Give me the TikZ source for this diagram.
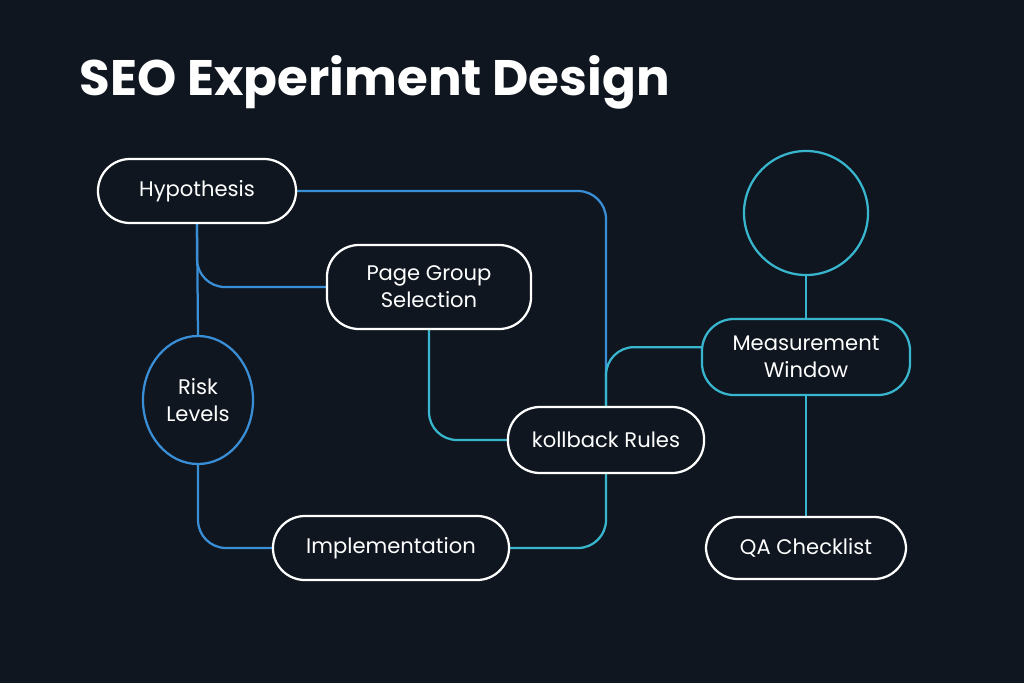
\documentclass[tikz,border=0pt]{standalone}
\usepackage{fontspec}
\setmainfont{Poppins}
\usetikzlibrary{shapes.geometric,backgrounds}
\definecolor{bgdark}{HTML}{0F1620}
\definecolor{lineblue}{HTML}{3A8ED6}
\definecolor{linecyan}{HTML}{38B6CE}

\begin{document}
\begin{tikzpicture}[x=0.025cm,y=-0.025cm,line width=1.6pt,
  box/.style={draw=white,fill=bgdark,rounded corners=0.8cm,text=white,align=center,
    font=\fontsize{15}{19}\selectfont,inner sep=0pt},
  blue link/.style={draw=lineblue,line width=1.6pt,rounded corners=0.7cm},
  cyan link/.style={draw=linecyan,line width=1.6pt,rounded corners=0.7cm}]

    % Title.
    \node[anchor=west,text=white,font=\fontsize{35.5}{40}\selectfont\bfseries]
      (title) at (74,82) {SEO Experiment Design};

    % Nodes.
    \node[box,minimum width=4.95cm,minimum height=1.6cm] (hyp) at (197,191) {Hypothesis};
    \node[box,minimum width=5.1cm,minimum height=2.1cm] (page) at (429,287) {Page Group\\Selection};
    \node[box,ellipse,draw=lineblue,minimum width=2.75cm,minimum height=3.2cm] (risk) at (198,400) {Risk\\Levels};
    \node[box,minimum width=4.9cm,minimum height=1.65cm] (roll) at (606,440) {kollback Rules};
    \node[box,minimum width=5.9cm,minimum height=1.6cm] (impl) at (391,548) {Implementation};
    \node[box,draw=linecyan,minimum width=5.2cm,minimum height=1.9cm] (meas) at (806,357) {Measurement\\Window};
    \node[box,minimum width=5cm,minimum height=1.55cm] (qa) at (806,548) {QA Checklist};
    \node[draw=linecyan,circle,minimum size=3.1cm] (circ) at (806,213) {};

    \begin{pgfonlayer}{background}
        \fill[bgdark] (0,0) rectangle (1024,683);
        % Connectors.
        \draw[blue link] (hyp.east) -| (roll.north);
        \draw[blue link] (hyp.south) -- (risk.north);
        \draw[blue link] (hyp.south) |- (page.west);
        \draw[blue link] (risk.south) |- (impl.west);
        \draw[cyan link] (page.south) |- (roll.west);
        \draw[cyan link] (impl.east) -| (roll.south);
        \draw[cyan link] (roll.north) |- ([yshift=7pt]meas.west);
        \draw[cyan link] (circ.south) -- (meas.north);
        \draw[cyan link] (meas.south) -- (qa.north);
    \end{pgfonlayer}
\end{tikzpicture}
\end{document}
